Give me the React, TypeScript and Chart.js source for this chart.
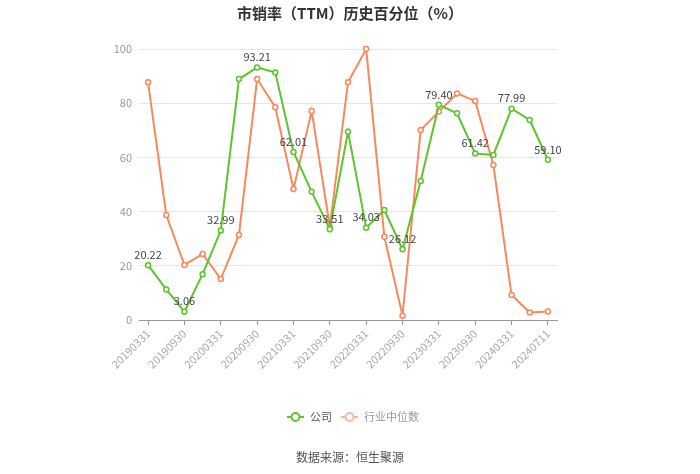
import React, { useEffect, useRef } from "react";
import { Chart, registerables } from "chart.js";

Chart.register(...registerables);

const categories = [
  "20190331", "20190630", "20190930", "20191231",
  "20200331", "20200630", "20200930", "20201231",
  "20210331", "20210630", "20210930", "20211231",
  "20220331", "20220630", "20220930", "20221231",
  "20230331", "20230630", "20230930", "20231231",
  "20240331", "20240630", "20240711",
];

const companyValues = [
  20.22, 11.3, 3.06, 16.9, 32.99, 88.9, 93.21, 91.3, 62.01, 47.3, 33.51, 69.5,
  34.03, 40.6, 26.12, 51.3, 79.4, 76.3, 61.42, 60.9, 77.99, 73.8, 59.1,
];

const industryValues = [
  87.7, 38.7, 20.3, 24.4, 15.1, 31.4, 88.9, 78.5, 48.3, 77.1, 34.4, 87.7,
  100, 30.7, 1.6, 70.1, 76.9, 83.6, 80.8, 57.2, 9.2, 2.8, 3.1,
];

const yTicks = [0, 20, 40, 60, 80, 100];

const seriesNames = ["公司", "行业中位数"];
const titleText = "市销率（TTM）历史百分位（%）";
const sourceText = "数据来源：恒生聚源";

const GREEN = "#5cc42c";
const ORANGE = "#f7895c";
const FONT = '"Noto Sans CJK SC", "Noto Sans", sans-serif';

const decorPlugin = {
  id: "decor",
  afterDatasetsDraw(chart: any) {
    const ctx = chart.ctx;
    ctx.save();
    const meta = chart.getDatasetMeta(0);
    ctx.font = `11px ${FONT}`;
    ctx.fillStyle = "#444";
    ctx.textAlign = "center";
    ctx.textBaseline = "bottom";
    meta.data.forEach((pt: any, i: number) => {
      if (i % 2 !== 0) return;
      const v = companyValues[i];
      ctx.fillText(v.toFixed(2), pt.x, pt.y - 5);
    });
    ctx.restore();
  },
  afterDraw(chart: any) {
    const ctx = chart.ctx;
    const W = chart.width;
    ctx.save();
    ctx.font = `bold 15px ${FONT}`;
    ctx.fillStyle = "#333";
    ctx.textAlign = "center";
    ctx.textBaseline = "middle";
    ctx.fillText(titleText, W / 2, 13);

    const items = [
      { name: seriesNames[0], color: GREEN, text: "#555", x: 287 },
      { name: seriesNames[1], color: "#f6b9a0", text: "#999", x: 341 },
    ];
    const ly = 417;
    items.forEach((it) => {
      ctx.strokeStyle = it.color;
      ctx.lineWidth = 2;
      ctx.beginPath();
      ctx.moveTo(it.x, ly);
      ctx.lineTo(it.x + 17, ly);
      ctx.stroke();
      ctx.beginPath();
      ctx.arc(it.x + 8.5, ly, 4, 0, Math.PI * 2);
      ctx.fillStyle = "#fff";
      ctx.fill();
      ctx.stroke();
      ctx.font = `11px ${FONT}`;
      ctx.fillStyle = it.text;
      ctx.textAlign = "left";
      ctx.textBaseline = "middle";
      ctx.fillText(it.name, it.x + 23, ly);
    });

    ctx.font = `12px ${FONT}`;
    ctx.fillStyle = "#555";
    ctx.textAlign = "center";
    ctx.textBaseline = "middle";
    ctx.fillText(sourceText, W / 2, 457);
    ctx.restore();
  },
};

export default function App() {
  const ref = useRef<HTMLCanvasElement>(null);

  useEffect(() => {
    document.body.style.margin = "0";
    const canvas = ref.current;
    if (!canvas) return;
    const chart = new Chart(canvas, {
      type: "line",
      data: {
        labels: categories,
        datasets: [
          {
            label: seriesNames[0],
            data: companyValues,
            borderColor: GREEN,
            backgroundColor: "#fff",
            borderWidth: 2,
            pointRadius: 2.5,
            pointBorderWidth: 1.5,
            pointBackgroundColor: "#fff",
            pointBorderColor: GREEN,
            tension: 0,
            clip: false,
          },
          {
            label: seriesNames[1],
            data: industryValues,
            borderColor: ORANGE,
            backgroundColor: "#fff",
            borderWidth: 2,
            pointRadius: 2.5,
            pointBorderWidth: 1.5,
            pointBackgroundColor: "#fff",
            pointBorderColor: ORANGE,
            tension: 0,
            clip: false,
          },
        ],
      },
      options: {
        responsive: false,
        animation: false,
        layout: { padding: { top: 49, right: 143, left: 0, bottom: 0 } },
        plugins: {
          legend: { display: false },
          title: { display: false },
          tooltip: { enabled: false },
        },
        scales: {
          x: {
            offset: true,
            afterFit: (s: any) => {
              s.height = 154;
            },
            grid: {
              offset: false,
              drawOnChartArea: false,
              drawTicks: true,
              tickLength: 5,
              tickColor: (c: any) => (c.index % 2 === 0 ? "#999" : "transparent"),
            },
            border: { color: "#999", width: 1 },
            ticks: {
              autoSkip: false,
              maxRotation: 45,
              minRotation: 45,
              padding: 2,
              color: "#aaa",
              font: { size: 11, family: FONT },
              callback: (_v: any, i: number) => (i % 2 === 0 ? categories[i] : ""),
            },
          },
          y: {
            min: 0,
            max: 100,
            afterFit: (s: any) => {
              s.width = 139;
            },
            afterBuildTicks: (s: any) => {
              s.ticks = yTicks.map((v) => ({ value: v }));
            },
            grid: { color: "#e6e6e6", drawTicks: false },
            border: { display: false },
            ticks: {
              padding: 7,
              color: "#999",
              font: { size: 11, family: FONT },
            },
          },
        },
      },
      plugins: [decorPlugin],
    });
    return () => chart.destroy();
  }, []);

  return <canvas ref={ref} width={700} height={474} style={{ display: "block" }} />;
}
